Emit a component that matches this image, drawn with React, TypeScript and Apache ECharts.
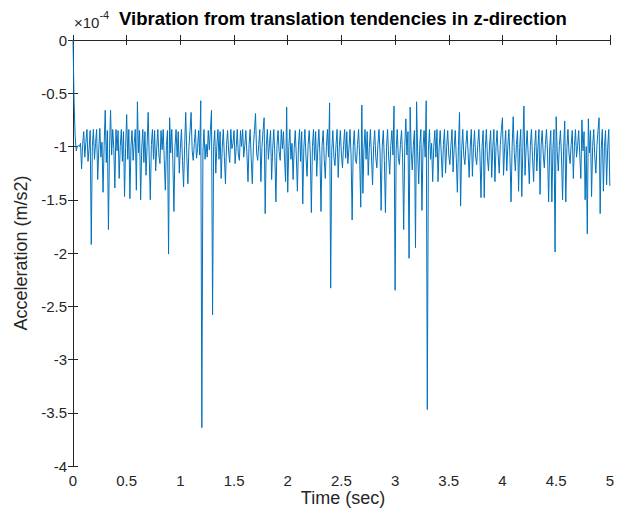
import React, { useEffect, useRef } from "react";
import * as echarts from "echarts";

// Sampling interval of the recorded signal (seconds)
const sampleInterval = 0.01;

// Acceleration in units of 1e-4 m/s^2 (one value per sample)
const accelE4: number[] = [
  0, -0.58, -0.9, -1.04, -1.0, -0.99, -1.0, -0.97, -1.21, -0.98,
  -0.86, -1.1, -0.96, -0.84, -1.14, -1.02, -0.85, -1.92, -1.0, -0.84,
  -1.12, -0.97, -0.84, -1.31, -1.03, -0.83, -1.1, -0.96, -1.43, -0.99,
  -0.66, -1.15, -0.85, -1.78, -1.02, -0.66, -1.08, -0.84, -1.02, -1.39,
  -0.84, -1.04, -0.85, -1.3, -1.0, -0.84, -1.14, -0.86, -1.47, -1.01,
  -0.7, -1.12, -0.84, -1.49, -1.0, -0.85, -1.13, -0.97, -0.84, -1.41,
  -0.58, -1.06, -0.85, -1.5, -1.02, -0.84, -1.15, -0.86, -1.27, -1.0,
  -0.68, -1.1, -1.5, -0.98, -0.84, -1.12, -0.85, -1.23, -1.01, -0.84,
  -1.08, -1.16, -0.85, -1.03, -0.84, -1.12, -1.41, -0.99, -0.85, -2.01,
  -0.73, -1.06, -0.84, -1.14, -1.61, -1.0, -0.84, -1.1, -0.86, -1.25,
  -1.02, -0.84, -1.13, -1.38, -0.99, -0.68, -1.09, -1.35, -1.0, -0.85,
  -0.68, -1.04, -1.13, -0.97, -0.84, -1.11, -1.02, -0.85, -1.08, -0.57,
  -3.64, -1.05, -0.84, -1.12, -0.98, -1.1, -0.85, -1.03, -0.84, -0.66,
  -2.58, -1.0, -0.85, -1.25, -0.99, -0.84, -1.12, -0.86, -1.3, -1.01,
  -0.84, -1.1, -1.35, -0.98, -0.85, -1.06, -1.15, -0.84, -1.02, -0.97,
  -0.85, -1.16, -1.01, -0.84, -1.08, -1.13, -0.85, -1.0, -0.84, -1.1,
  -0.99, -0.85, -1.07, -1.33, -0.98, -0.84, -1.12, -1.35, -1.0, -0.85,
  -0.69, -1.06, -1.13, -0.98, -0.84, -1.33, -1.01, -0.85, -0.73, -1.63,
  -1.0, -0.84, -1.12, -0.97, -0.85, -1.31, -1.02, -0.84, -1.08, -1.52,
  -0.99, -0.85, -1.05, -1.13, -0.84, -1.02, -0.86, -1.1, -1.33, -0.63,
  -1.43, -1.0, -0.84, -1.12, -0.97, -1.31, -1.02, -0.85, -1.09, -1.42,
  -0.99, -0.84, -1.14, -0.86, -1.54, -1.01, -0.84, -1.1, -1.28, -0.98,
  -0.85, -1.06, -1.62, -1.0, -0.84, -1.13, -0.86, -1.28, -1.02, -0.84,
  -1.08, -1.61, -0.99, -0.85, -1.12, -1.3, -1.0, -0.84, -1.1, -0.59,
  -2.33, -1.04, -0.85, -1.1, -1.18, -0.98, -0.84, -1.29, -1.01, -0.85,
  -1.07, -1.2, -0.99, -0.84, -1.11, -0.86, -1.16, -1.02, -0.84, -1.08,
  -1.69, -1.0, -0.85, -1.12, -1.16, -0.98, -0.84, -1.1, -1.57, -0.61,
  -1.44, -1.02, -0.84, -1.12, -0.86, -1.27, -1.01, -0.84, -1.09, -1.36,
  -0.99, -0.85, -1.1, -1.2, -0.98, -0.84, -1.06, -1.6, -1.0, -0.85,
  -1.13, -1.62, -1.01, -0.84, -1.1, -1.26, -0.99, -0.85, -1.08, -0.62,
  -2.35, -1.03, -0.84, -1.11, -1.17, -0.98, -0.85, -1.1, -1.78, -1.0,
  -0.74, -1.08, -0.86, -2.05, -0.63, -1.04, -1.22, -0.99, -0.85, -1.95,
  -0.58, -1.05, -1.35, -0.98, -0.84, -1.6, -1.01, -0.85, -1.1, -0.57,
  -3.47, -1.04, -0.84, -1.12, -0.97, -1.33, -1.0, -0.85, -1.1, -0.84,
  -1.33, -1.01, -0.85, -1.07, -1.29, -0.98, -0.84, -1.25, -1.0, -0.85,
  -1.08, -1.17, -0.99, -0.84, -1.24, -1.02, -0.85, -1.11, -1.43, -0.99,
  -0.68, -1.56, -1.03, -0.84, -1.09, -1.17, -0.98, -0.85, -1.06, -1.29,
  -1.0, -0.84, -1.28, -1.01, -0.85, -1.1, -1.17, -0.98, -0.84, -1.07,
  -1.48, -1.0, -0.85, -1.48, -1.02, -0.84, -1.1, -1.23, -0.99, -0.85,
  -1.29, -1.01, -0.84, -1.33, -1.0, -0.85, -1.08, -1.25, -0.98, -0.84,
  -0.73, -1.27, -1.01, -0.85, -1.23, -0.99, -0.84, -1.1, -1.52, -1.0,
  -0.72, -1.06, -1.23, -0.98, -0.85, -1.42, -1.01, -0.84, -1.47, -1.0,
  -0.62, -1.27, -1.02, -0.85, -1.09, -1.35, -0.99, -0.84, -1.1, -1.33,
  -1.0, -0.85, -1.23, -1.01, -0.84, -1.45, -0.99, -0.85, -1.08, -1.2,
  -0.98, -0.84, -1.06, -1.52, -1.0, -0.85, -1.52, -1.02, -0.84, -1.99,
  -0.72, -1.05, -1.23, -0.99, -0.85, -1.1, -1.5, -1.0, -0.76, -1.52,
  -1.01, -0.84, -1.07, -1.16, -0.98, -0.85, -1.3, -1.0, -0.84, -1.1,
  -0.99, -0.85, -1.08, -1.3, -0.75, -1.04, -0.86, -1.5, -1.0, -1.82,
  -0.74, -1.06, -0.85, -1.47, -1.0, -0.84, -1.1, -1.25, -0.99, -0.85,
  -0.73, -1.63, -1.02, -0.84, -1.42, -1.0, -0.85, -1.36, -1.01, -0.84,
  -1.37,
];

const titleText = "Vibration from translation tendencies in z-direction";
const xAxisTitle = "Time (sec)";
const yAxisTitle = "Acceleration (m/s2)";

const FONT = "'Liberation Sans', Arial, Helvetica, sans-serif";
const INK = "#262626";

export default function App() {
  const ref = useRef<HTMLDivElement>(null);

  useEffect(() => {
    if (!ref.current) return;
    const chart = echarts.init(ref.current, undefined, { renderer: "svg" });
    const seriesData = accelE4.map((v, i) => [
      Number((i * sampleInterval).toFixed(2)),
      v,
    ]);

    const left = 73;
    const top = 40;
    const width = 540;
    const height = 426;

    const axisCommon = {
      axisLine: { show: true, lineStyle: { color: INK, width: 1 } },
      axisTick: { show: true, inside: true, length: 5, lineStyle: { color: INK, width: 1 } },
      splitLine: { show: false },
    };

    chart.setOption({
      animation: false,
      backgroundColor: "#ffffff",
      textStyle: { fontFamily: FONT },
      grid: { left, top, width, height, containLabel: false },
      xAxis: [
        {
          type: "value",
          min: 0,
          max: 5,
          interval: 0.5,
          position: "bottom",
          ...axisCommon,
          axisLabel: { color: INK, fontSize: 15, margin: 7, fontFamily: FONT, lineHeight: 15 },
        },
        {
          type: "value",
          min: 0,
          max: 5,
          interval: 0.5,
          position: "top",
          ...axisCommon,
          axisLabel: { show: false },
        },
      ],
      yAxis: [
        {
          type: "value",
          min: -4,
          max: 0,
          interval: 0.5,
          position: "left",
          ...axisCommon,
          axisLabel: { color: INK, fontSize: 15, margin: 6, fontFamily: FONT },
        },
        {
          type: "value",
          min: -4,
          max: 0,
          interval: 0.5,
          position: "right",
          ...axisCommon,
          axisLabel: { show: false },
        },
      ],
      series: [
        {
          type: "line",
          data: seriesData,
          xAxisIndex: 0,
          yAxisIndex: 0,
          showSymbol: false,
          symbol: "none",
          lineStyle: { color: "#0072BD", width: 1 },
          clip: true,
        },
      ],
      graphic: [
        {
          type: "text",
          left: 74,
          top: 9,
          style: {
            text: "{m|×10}{s|-4}",
            rich: {
              m: { fontSize: 15, fontFamily: FONT, fill: INK, padding: [6, 0, 0, 0] },
              s: { fontSize: 11, fontFamily: FONT, fill: INK, verticalAlign: "top", padding: [0, 0, 6, 0] },
            },
          },
        },
        {
          type: "text",
          x: 343,
          y: 18,
          style: {
            text: titleText,
            fontSize: 18.5,
            fontWeight: "bold",
            fontFamily: FONT,
            fill: "#000000",
            align: "center",
            verticalAlign: "middle",
          },
        },
        {
          type: "text",
          x: 343,
          y: 498,
          style: {
            text: xAxisTitle,
            fontSize: 18,
            lineHeight: 18,
            fontFamily: FONT,
            fill: INK,
            align: "center",
            verticalAlign: "middle",
          },
        },
        {
          type: "text",
          x: 21,
          y: 253,
          rotation: Math.PI / 2,
          style: {
            text: yAxisTitle,
            fontSize: 18,
            fontFamily: FONT,
            fill: INK,
            align: "center",
            verticalAlign: "middle",
          },
        },
      ],
    });

    return () => {
      chart.dispose();
    };
  }, []);

  return (
    <div
      ref={ref}
      style={{ position: "fixed", left: 0, top: 0, width: 617, height: 519, background: "#fff" }}
    />
  );
}
